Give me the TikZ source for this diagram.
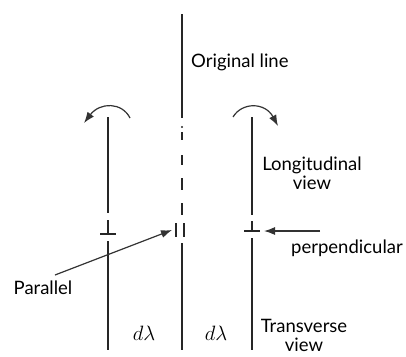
\documentclass[tikz,border=0pt]{standalone}
\usepackage{fontspec}
\setmainfont{Lato}
\usetikzlibrary{arrows.meta, positioning, calc}

\begin{document}
\begin{tikzpicture}[
        x=1pt, y=-1pt,
        line/.style={line width=1.2pt, black!85},
        tickbar/.style={line width=1.2pt, black!85},
        arrow/.style={-{Latex[length=11pt, width=8pt]}, line width=1.2pt, black!80},
        txt/.style={font=\fontsize{18.5}{19}\selectfont, inner sep=0pt, align=center}
    ]
        % frame
        \useasboundingbox (0,0) rectangle (406,356);

        % Original line (middle)
        \draw[line] (182,14) -- (182,118);
        \fill[black!85] (182,127) circle (1.2pt);
        \foreach \a/\b in {132/140, 155/165, 178/190, 203/215}
            \draw[line] (182,\a) -- (182,\b);
        \draw[tickbar] (176,223) -- (176,237);
        \draw[tickbar] (184,223) -- (184,237);
        \coordinate (par) at (172,230);
        \draw[line] (182,243) -- (182,350);

        % Left view
        \draw[line] (108,117) -- (108,213);
        \draw[tickbar] (108,220) -- (108,234);
        \draw[tickbar] (100,234) -- (116,234);
        \draw[line] (108,241) -- (108,350);

        % Right view
        \draw[line] (252,117) -- (252,215);
        \draw[tickbar] (252,221) -- (252,231);
        \draw[tickbar] (244,231) -- (260,231);
        \coordinate (perp) at (264,231);
        \draw[line] (252,238) -- (252,350);

        % Rotation arrows
        \draw[arrow] (130,118) .. controls (122,102) and (100,102) .. (84,123);
        \draw[arrow] (233,117) .. controls (242,102) and (265,102) .. (278,126);

        % Labels
        \node[txt, anchor=west] (orig) at (191,62) {Original line};
        \node[txt] (longi) at (312,173) {Longitudinal\\view};
        \node[txt] (trans) at (304,335) {Transverse\\view};
        \node[txt] (parl) at (43,288) {Parallel};
        \node[txt] (perpl) at (347,248) {perpendicular};
        \node[txt, font=\fontsize{22}{22}\selectfont] (dl1) at (144,333) {$d\lambda$};
        \node[txt, font=\fontsize{22}{22}\selectfont] (dl2) at (216,333) {$d\lambda$};

        % Pointers
        \coordinate (partail) at (55,275);
        \draw[arrow] (partail) -- (par);
        \coordinate (perptail) at (320,231);
        \draw[arrow] (perptail) -- (perp);
    \end{tikzpicture}
\end{document}
